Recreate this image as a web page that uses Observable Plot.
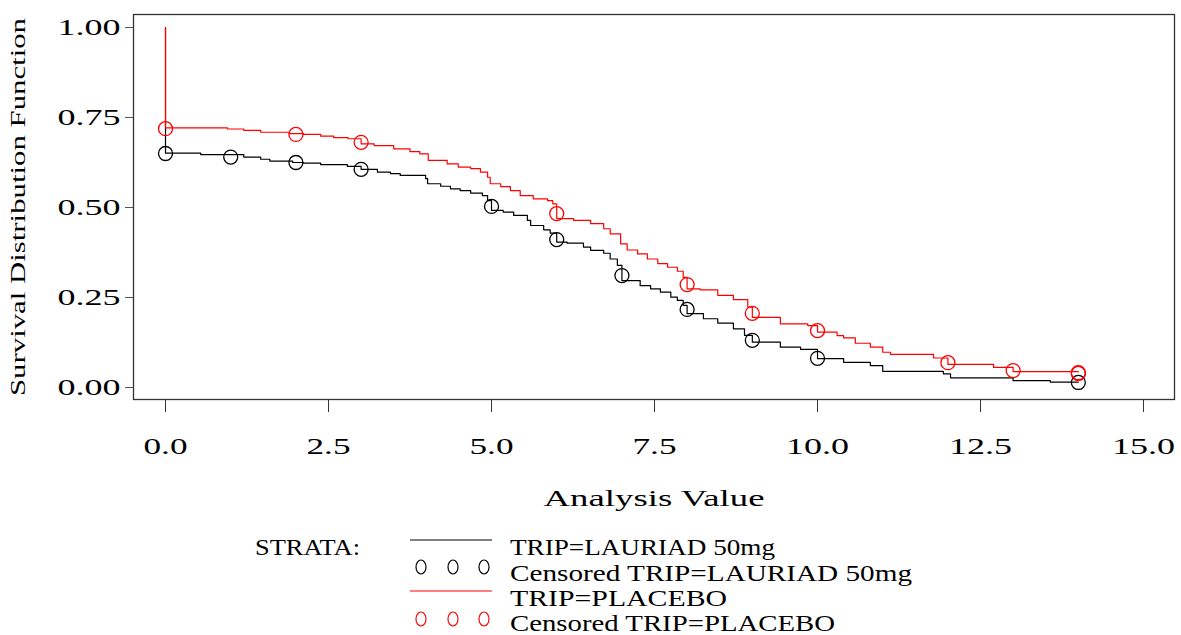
<!DOCTYPE html>
<html>
<head>
<meta charset="utf-8">
<script src="https://cdn.jsdelivr.net/npm/d3@7"></script>
<script src="https://cdn.jsdelivr.net/npm/@observablehq/plot@0.6"></script>
<style>
  html, body { margin: 0; padding: 0; background: #fff; }
  #chart svg { display: block; }
</style>
</head>
<body>
<div id="chart"></div>
<script>
// ---- Data ----
const laurT = [0, 0, 0.54, 1.2, 1.46, 1.6, 1.95, 2.12, 2.38, 2.79, 3.0, 3.25, 3.45, 3.6, 3.99, 4.02, 4.22, 4.37, 4.52, 4.68, 4.86, 4.94, 5.0, 5.18, 5.34, 5.55, 5.6, 5.8, 5.9, 6.0, 6.16, 6.41, 6.52, 6.72, 6.82, 6.93, 7.0, 7.28, 7.44, 7.59, 7.75, 7.85, 7.94, 8.0, 8.25, 8.47, 8.71, 8.88, 9.0, 9.43, 9.74, 10.0, 10.4, 10.81, 11.0, 11.93, 12.04, 13.0, 13.57, 14.0];
const laurS = [1.0, 0.651, 0.647, 0.640, 0.634, 0.629, 0.625, 0.623, 0.619, 0.614, 0.606, 0.598, 0.594, 0.589, 0.580, 0.566, 0.559, 0.552, 0.547, 0.540, 0.533, 0.519, 0.492, 0.487, 0.478, 0.464, 0.450, 0.438, 0.429, 0.404, 0.401, 0.390, 0.381, 0.373, 0.357, 0.339, 0.297, 0.283, 0.274, 0.265, 0.251, 0.242, 0.228, 0.205, 0.191, 0.179, 0.163, 0.145, 0.126, 0.112, 0.106, 0.080, 0.070, 0.061, 0.045, 0.038, 0.027, 0.019, 0.015, 0.015];

const placT = [0, 0, 0.95, 1.2, 1.46, 1.9, 2.12, 2.38, 2.58, 2.8, 3.0, 3.2, 3.5, 3.75, 3.9, 4.03, 4.32, 4.49, 4.68, 4.83, 4.94, 4.98, 5.14, 5.29, 5.44, 5.64, 5.86, 5.94, 6.0, 6.26, 6.52, 6.72, 6.82, 6.98, 7.08, 7.24, 7.39, 7.55, 7.7, 7.85, 7.94, 8.0, 8.2, 8.47, 8.71, 8.93, 9.0, 9.43, 9.85, 10.0, 10.3, 10.4, 10.58, 10.81, 11.0, 11.12, 11.78, 12.0, 12.7, 13.0, 14.0];
const placS = [1.0, 0.721, 0.718, 0.714, 0.709, 0.705, 0.703, 0.698, 0.694, 0.691, 0.677, 0.672, 0.663, 0.655, 0.649, 0.631, 0.621, 0.612, 0.608, 0.598, 0.584, 0.566, 0.558, 0.547, 0.533, 0.524, 0.519, 0.510, 0.469, 0.464, 0.455, 0.441, 0.427, 0.399, 0.382, 0.371, 0.357, 0.344, 0.334, 0.323, 0.306, 0.274, 0.271, 0.256, 0.244, 0.223, 0.195, 0.177, 0.172, 0.154, 0.144, 0.138, 0.123, 0.112, 0.098, 0.092, 0.082, 0.064, 0.056, 0.044, 0.044];

const censLaurT = [0, 1, 2, 3, 5, 6, 7, 8, 9, 10, 14];
const censLaurS = [0.650, 0.640, 0.625, 0.606, 0.503, 0.411, 0.311, 0.217, 0.131, 0.081, 0.014];

const censPlacT = [0, 2, 3, 6, 8, 9, 10, 12, 13, 14, 14];
const censPlacS = [0.719, 0.703, 0.681, 0.483, 0.286, 0.206, 0.158, 0.069, 0.047, 0.039, 0.041];

const xTicks = [0, 2.5, 5, 7.5, 10, 12.5, 15];
const yTicks = [0, 0.25, 0.5, 0.75, 1];

const xLabel = "Analysis Value";
const yLabel = "Survival Distribution Function";
const legendTitle = "STRATA:";
const legendLabels = ["TRIP=LAURIAD 50mg", "Censored TRIP=LAURIAD 50mg", "TRIP=PLACEBO", "Censored TRIP=PLACEBO"];

const zip = (T, S) => T.map((t, i) => ({t, s: S[i]}));
const laur = zip(laurT, laurS);
const plac = zip(placT, placS);
const censLaur = zip(censLaurT, censLaurS);
const censPlac = zip(censPlacT, censPlacS);

const FONT = "'Liberation Serif', serif";

const plot = Plot.plot({
  width: 1181,
  height: 520,
  marginLeft: 133,
  marginRight: 7,
  marginTop: 14,
  marginBottom: 121,
  x: {domain: [-0.491, 15.475]},
  y: {domain: [-0.0333, 1.0361]},
  style: {fontFamily: FONT, fontSize: "24px", color: "#000", background: "#fff", overflow: "visible"},
  marks: [
    Plot.axisY({ticks: yTicks, tickFormat: d => d.toFixed(2), tickSize: 8, tickPadding: 5, label: null, stroke: "#555", fill: "#000"}),
    Plot.axisX({ticks: xTicks, tickFormat: d => d.toFixed(1), tickSize: 13, tickPadding: 24, label: null, stroke: "#333", fill: "#000"}),
    Plot.frame({stroke: "#333", strokeWidth: 1.3}),
    Plot.line(laur, {x: "t", y: "s", curve: "step-after", stroke: "#000", strokeWidth: 1.2}),
    Plot.line(plac, {x: "t", y: "s", curve: "step-after", stroke: "#ff0000", strokeWidth: 1.2}),
    Plot.dot(censLaur, {x: "t", y: "s", r: 7, stroke: "#000", fill: "none", strokeWidth: 1.3}),
    Plot.dot(censPlac, {x: "t", y: "s", r: 7, stroke: "#ff0000", fill: "none", strokeWidth: 1.3}),
    Plot.text([xLabel], {text: d => d, frameAnchor: "bottom", dy: 106, fontSize: 24, fill: "#000", className: "xlab"}),
    Plot.text([yLabel], {text: d => d, frameAnchor: "left", textAnchor: "middle", dx: -115, rotate: -90, fontSize: 20, fill: "#000", className: "ylab"})
  ]
});

document.getElementById("chart").appendChild(plot);

// stretch text to match the wide look of the reference font
const svg = d3.select(plot);
svg.selectAll("g[aria-label='x-axis tick label'] text, g[aria-label='y-axis tick label'] text").each(function() {
  const n = this.textContent.length;
  d3.select(this).attr("textLength", n >= 4 ? 63 : 44).attr("lengthAdjust", "spacingAndGlyphs");
});
svg.selectAll(".xlab text").attr("textLength", 221).attr("lengthAdjust", "spacingAndGlyphs");
svg.selectAll(".ylab text").attr("textLength", 378).attr("lengthAdjust", "spacingAndGlyphs");

// ---- Legend (below the plot) ----
const off = 520;
const leg = d3.select("#chart").append("svg")
  .attr("width", 1181).attr("height", 115)
  .style("display", "block")
  .style("font-family", FONT);

leg.append("text").attr("x", 255).attr("y", 555 - off).attr("font-size", 23)
  .attr("textLength", 105).attr("lengthAdjust", "spacingAndGlyphs").text(legendTitle);

const rows = [
  {kind: "line", color: "#000", ys: 540, ty: 555, w: 265},
  {kind: "dots", color: "#000", ys: 567, ty: 581, w: 402},
  {kind: "line", color: "#ff0000", ys: 591, ty: 606, w: 217},
  {kind: "dots", color: "#ff0000", ys: 619, ty: 631, w: 325}
];
rows.forEach((r, i) => {
  if (r.kind === "line") {
    leg.append("line").attr("x1", 410).attr("x2", 492).attr("y1", r.ys - off).attr("y2", r.ys - off)
      .attr("stroke", r.color).attr("stroke-width", 1.2);
  } else {
    [421, 453, 484].forEach(cx => {
      leg.append("ellipse").attr("cx", cx).attr("cy", r.ys - off).attr("rx", 5).attr("ry", 7)
        .attr("fill", "none").attr("stroke", r.color).attr("stroke-width", 1.2);
    });
  }
  leg.append("text").attr("x", 510).attr("y", r.ty - off).attr("font-size", 23)
    .attr("textLength", r.w).attr("lengthAdjust", "spacingAndGlyphs").text(legendLabels[i]);
});
</script>
</body>
</html>
